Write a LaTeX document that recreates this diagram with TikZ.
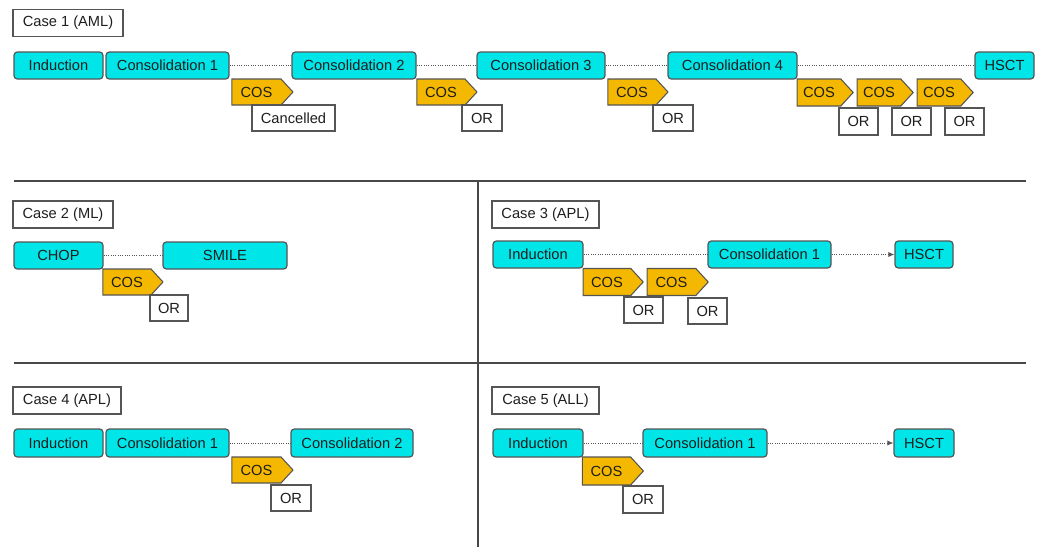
\documentclass[tikz,border=0pt]{standalone}
\usepackage{fontspec}
\setmainfont{Liberation Sans}
\usetikzlibrary{shapes.symbols,arrows.meta}
\definecolor{cyanfill}{RGB}{0,229,232}
\definecolor{cosfill}{RGB}{245,184,0}
\definecolor{edge}{RGB}{85,85,85}
\definecolor{txt}{RGB}{30,30,30}
\tikzset{
  bw/.style={minimum width=#1*0.75pt},
  bh/.style={minimum height=#1*0.75pt},
  phase/.style={draw=edge, line width=0.9pt, fill=cyanfill, rounded corners=2.5pt, inner sep=0pt, text=txt, bh=27, font=\fontsize{11}{13}\selectfont},
  cosbox/.style={shape=signal, signal to=east, signal pointer angle=95, draw=edge, line width=0.8pt, fill=cosfill, inner sep=0pt, bw=60, bh=26, text=txt, font=\fontsize{11}{13}\selectfont},
  orbox/.style={draw=edge, line width=0.8pt, fill=white, inner sep=0pt, bh=26, text=txt, font=\fontsize{11}{13}\selectfont},
  caselab/.style={draw=edge, line width=0.8pt, fill=white, inner sep=0pt, bh=27, text=txt, font=\fontsize{11}{13}\selectfont},
  link/.style={densely dotted, line width=0.75pt, draw=edge},
  linkarrow/.style={link, -{Latex[length=4.5pt,width=4pt]}},
  divider/.style={line width=1.6pt, draw=edge!85!black}
}
\begin{document}
\begin{tikzpicture}[x=0.75pt,y=-0.75pt]
\useasboundingbox (0,0) rectangle (1040,547);
% dividers
\coordinate (h1a) at (14,181);
\coordinate (h1b) at (1026,181);
\coordinate (h2a) at (14,363);
\coordinate (h2b) at (1026,363);
\coordinate (vt) at (478,181);
\coordinate (vb) at (478,547);
\draw[divider] (h1a) -- (h1b);
\draw[divider] (h2a) -- (h2b);
\draw[divider] (vt) -- (vb);

% ---------- Case 1
\node[caselab, bw=110] (c1lab) at (68,23) {Case 1 (AML)};
\node[phase, bw=89] (ind1) at (58.5,65.5) {Induction};
\node[phase, bw=123] (con11) at (167.5,65.5) {Consolidation 1};
\node[phase, bw=124] (con12) at (354,65.5) {Consolidation 2};
\node[phase, bw=128] (con13) at (541,65.5) {Consolidation 3};
\node[phase, bw=129] (con14) at (732.5,65.5) {Consolidation 4};
\node[phase, bw=59] (hsct1) at (1004.5,65.5) {HSCT};
\draw[link] (con11) -- (con12);
\draw[link] (con12) -- (con13);
\draw[link] (con13) -- (con14);
\draw[link] (con14) -- (hsct1);
\node[cosbox, bw=61] (cos11) at (256.5,92) {COS};
\node[cosbox] (cos12) at (441,92) {COS};
\node[cosbox] (cos13) at (632,92) {COS};
\node[cosbox, bw=56, bh=27] (cos14) at (819,92.5) {COS};
\node[cosbox, bw=56, bh=27] (cos15) at (879,92.5) {COS};
\node[cosbox, bw=56, bh=27] (cos16) at (939,92.5) {COS};
\node[orbox, bw=83] (canc1) at (293.5,118) {Cancelled};
\node[orbox, bw=40] (or12) at (482,118) {OR};
\node[orbox, bw=40] (or13) at (673,118) {OR};
\node[orbox, bw=39, bh=27] (or14) at (858.5,121.5) {OR};
\node[orbox, bw=39, bh=27] (or15) at (911.5,121.5) {OR};
\node[orbox, bw=39, bh=27] (or16) at (964.5,121.5) {OR};

% ---------- Case 2
\node[caselab, bw=100] (c2lab) at (63,214.5) {Case 2 (ML)};
\node[phase, bw=89] (chop) at (58.5,255.5) {CHOP};
\node[phase, bw=124] (smile) at (225,255.5) {SMILE};
\draw[link] (chop) -- (smile);
\node[cosbox] (cos2) at (127,282) {COS};
\node[orbox, bw=38] (or2) at (169,308) {OR};

% ---------- Case 3
\node[caselab, bw=107] (c3lab) at (545.5,214.5) {Case 3 (APL)};
\node[phase, bw=90] (ind3) at (538,254.5) {Induction};
\node[phase, bw=123] (con31) at (769.5,254.5) {Consolidation 1};
\node[phase, bw=58] (hsct3) at (924,254.5) {HSCT};
\draw[link] (ind3) -- (con31);
\draw[linkarrow] (con31) -- (hsct3);
\node[cosbox, bh=27] (cos31) at (607,282) {COS};
\node[cosbox, bw=61, bh=27] (cos32) at (671.5,282) {COS};
\node[orbox, bw=39] (or31) at (643.5,310) {OR};
\node[orbox, bw=39] (or32) at (707.5,311) {OR};

% ---------- Case 4
\node[caselab, bw=108] (c4lab) at (67,400.5) {Case 4 (APL)};
\node[phase, bw=89, bh=28] (ind4) at (58.5,443) {Induction};
\node[phase, bw=123, bh=28] (con41) at (167.5,443) {Consolidation 1};
\node[phase, bw=122, bh=28] (con42) at (352,443) {Consolidation 2};
\draw[link] (con41) -- (con42);
\node[cosbox, bw=61] (cos4) at (256.5,470) {COS};
\node[orbox, bw=40] (or4) at (291,498) {OR};

% ---------- Case 5
\node[caselab, bw=107] (c5lab) at (545.5,400.5) {Case 5 (ALL)};
\node[phase, bw=90, bh=28] (ind5) at (538,443) {Induction};
\node[phase, bw=124, bh=28] (con51) at (705,443) {Consolidation 1};
\node[phase, bw=60, bh=28] (hsct5) at (924,443) {HSCT};
\draw[link] (ind5) -- (con51);
\draw[linkarrow] (con51) -- (hsct5);
\node[cosbox, bw=61, bh=28] (cos5) at (606.5,471) {COS};
\node[orbox, bw=40, bh=27] (or5) at (643,499.5) {OR};
\end{tikzpicture}
\end{document}
